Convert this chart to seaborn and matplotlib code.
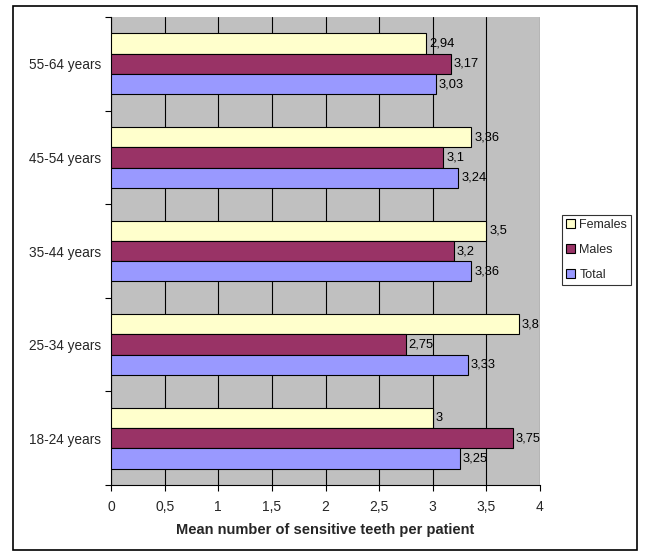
import matplotlib
matplotlib.use("Agg")
import matplotlib.pyplot as plt
import seaborn as sns
import pandas as pd
from matplotlib.patches import Rectangle
from matplotlib.ticker import FixedLocator

categories = ["55-64 years", "45-54 years", "35-44 years", "25-34 years", "18-24 years"]
females = [2.94, 3.36, 3.5, 3.8, 3.0]
males = [3.17, 3.1, 3.2, 2.75, 3.75]
total = [3.03, 3.24, 3.36, 3.33, 3.25]
series = ["Females", "Males", "Total"]
xticks = [0, 0.5, 1, 1.5, 2, 2.5, 3, 3.5, 4]
xticklabels = ["0", "0,5", "1", "1,5", "2", "2,5", "3", "3,5", "4"]

rows = []
for i, c in enumerate(categories):
    for s, vals in zip(series, [females, males, total]):
        rows.append({"cat": c, "series": s, "value": vals[i]})
df = pd.DataFrame(rows)

sns.set_theme(style="white")
plt.rcParams["font.family"] = ["Liberation Sans", "DejaVu Sans"]

fig = plt.figure(figsize=(6.47, 5.56), dpi=100)
ax = fig.add_axes([111/647, 1 - 485/556, (540 - 111)/647, (485 - 17)/556])
ax.set_facecolor("#C0C0C0")

palette = {"Females": "#FFFFCC", "Males": "#993366", "Total": "#9999FF"}
sns.barplot(data=df, y="cat", x="value", hue="series", hue_order=series,
            order=categories, orient="h", palette=palette, width=0.65,
            edgecolor="black", linewidth=0.8, saturation=1, ax=ax, zorder=3)

ax.set_xlim(0, 4)
ax.set_ylim(len(categories) - 0.5, -0.5)
ax.xaxis.set_major_locator(FixedLocator(xticks))
ax.set_xticklabels(xticklabels, fontsize=10)
ax.grid(axis="x", color="black", linewidth=0.8, zorder=0)
ax.set_axisbelow(True)

ax.tick_params(axis="y", which="major", length=0, labelsize=9.8, pad=7)
ax.yaxis.set_minor_locator(FixedLocator([i + 0.5 for i in range(-1, len(categories))]))
ax.tick_params(axis="y", which="minor", length=4, width=0.8, color="black", left=True)
ax.tick_params(axis="x", which="major", length=4, width=0.8, color="black", bottom=True, labelsize=10, pad=7)

for side in ["top", "right"]:
    ax.spines[side].set_visible(False)
for side in ["left", "bottom"]:
    ax.spines[side].set_color("black")
    ax.spines[side].set_linewidth(0.8)

for cont in ax.containers:
    labels = [f"{v:g}".replace(".", ",") for v in cont.datavalues]
    ax.bar_label(cont, labels=labels, padding=2, fontsize=9.3, color="black")

ax.set_xlabel("Mean number of sensitive teeth per patient", fontsize=10.5, fontweight="bold", labelpad=6)
ax.set_ylabel("")

leg = ax.legend(loc="upper left", bbox_to_anchor=(562/647, 1 - 215/556), bbox_transform=fig.transFigure,
                frameon=True, fancybox=False, fontsize=9, handlelength=0.7, handleheight=0.7,
                handletextpad=0.4, borderpad=0.3, labelspacing=1.05, borderaxespad=0)
leg.get_frame().set_edgecolor("black")
leg.get_frame().set_linewidth(0.8)

fig.patches.append(Rectangle((13/647, 6/556), (637 - 13)/647, (550 - 6)/556, transform=fig.transFigure,
                             fill=False, edgecolor="black", linewidth=1.2))

fig.savefig("out.png", dpi=100)
